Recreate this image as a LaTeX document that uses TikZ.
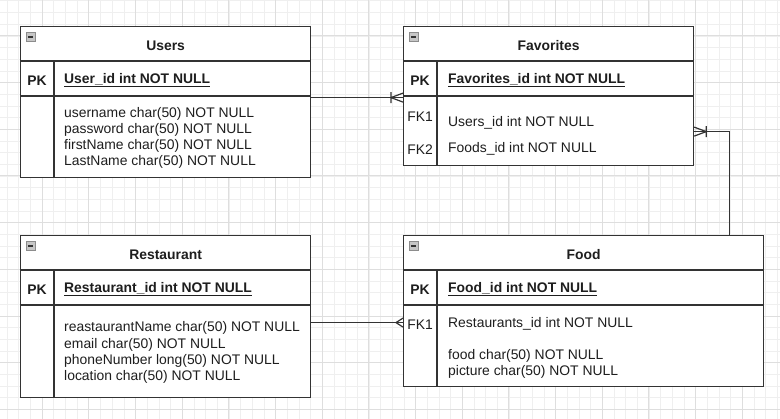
\documentclass[tikz,border=0pt]{standalone}
\usepackage{fontspec}
\setmainfont{Liberation Sans}
\usetikzlibrary{positioning}
\usetikzlibrary{calc}

\definecolor{gridminor}{HTML}{EFEFEF}
\definecolor{gridmajor}{HTML}{DEDEDE}
\definecolor{edge}{HTML}{333333}
\definecolor{ink}{HTML}{1E1E1E}

\begin{document}
\begin{tikzpicture}[x=1pt, y=-1pt,
    tbl/.style={rectangle, draw=edge, line width=1.2pt, fill=white, anchor=north west, inner sep=0pt},
    rule/.style={draw=edge, line width=1.2pt},
    conn/.style={draw=edge, line width=1.2pt},
    minusbox/.style={rectangle, draw=gray!90, fill=gray!45, minimum size=9pt, inner sep=0pt,
      path picture={\draw[edge, line width=1.4pt] ([xshift=1.8pt]path picture bounding box.west) -- ([xshift=-1.8pt]path picture bounding box.east);}},
    field/.style={anchor=west, inner sep=0pt, yshift=-1.3pt, text=ink, font=\fontsize{13.9}{16}\selectfont},
    keyfield/.style={field, font=\fontsize{13.9}{16}\selectfont\bfseries},
    title/.style={inner sep=0pt, yshift=-1.3pt, text=ink, font=\fontsize{13.9}{16}\selectfont\bfseries},
    pkl/.style={inner sep=0pt, yshift=-1.3pt, text=ink, font=\fontsize{13.9}{16}\selectfont\bfseries},
    fkl/.style={inner sep=0pt, yshift=-1.3pt, text=ink, font=\fontsize{13.9}{16}\selectfont},
    many/.pic={\draw[edge, line width=1.2pt] (-7,0) -- (0,-4.5) (-7,0) -- (0,4.5);},
    onemany/.pic={\draw[edge, line width=1.2pt] (-12,0) -- (0,-4.5) (-12,0) -- (0,4.5) (-12,-5.5) -- (-12,5.5);}]

        \useasboundingbox (0,0) rectangle (780,419);

        % Background grid
        \foreach \i in {0,...,66} {
          \draw[gridminor, line width=0.8pt] ({7.2+\i*11.67},0) -- ({7.2+\i*11.67},419);
        }
        \foreach \i in {0,...,35} {
          \draw[gridminor, line width=0.8pt] (0,{0.9+\i*11.67}) -- (780,{0.9+\i*11.67});
        }
        \foreach \i in {0,...,16} {
          \draw[gridmajor, line width=0.9pt] ({42.1+\i*46.68},0) -- ({42.1+\i*46.68},419);
        }
        \foreach \i in {0,...,8} {
          \draw[gridmajor, line width=0.9pt] (0,{35.9+\i*46.68}) -- (780,{35.9+\i*46.68});
        }

        % Tables: name / left / top / width / height
        \foreach \n/\x/\y/\w/\h in {users/20/26/290/151, fav/403/26/290/139, rest/20/235/290/162, food/403/235/360/151} {
          \node[tbl, minimum width=\w, minimum height=\h] (\n) at (\x,\y) {};
          \draw[rule] ([yshift=-35pt]\n.north west) -- ([yshift=-35pt]\n.north east);
          \draw[rule] ([yshift=-70pt]\n.north west) -- ([yshift=-70pt]\n.north east);
          \draw[rule] ([shift={(34pt,-35pt)}]\n.north west) -- ([xshift=34pt]\n.south west);
          \node[minusbox] (\n-min) at ([shift={(10.5pt,-11pt)}]\n.north west) {};
        }

        % Users
        \node[title] (users-title) at ([yshift=-18pt]users.north) {Users};
        \node[pkl] (users-pk) at (37,79) {PK};
        \node[keyfield] (users-key) at (64,79) {\underline{User\_id int NOT NULL}};
        \foreach \txt [count=\i] in {username char(50) NOT NULL, password char(50) NOT NULL, firstName char(50) NOT NULL, LastName char(50) NOT NULL} {
          \node[field] (users-f\i) at (64,{113+(\i-1)*16}) {\txt};
        }

        % Favorites
        \node[title] (fav-title) at ([yshift=-18pt]fav.north) {Favorites};
        \node[pkl] (fav-pk) at (420,79) {PK};
        \node[keyfield] (fav-key) at (448,79) {\underline{Favorites\_id int NOT NULL}};
        \node[fkl] (fav-fk1) at (420,115) {FK1};
        \node[field] (fav-f1) at (448,122) {Users\_id int NOT NULL};
        \node[fkl] (fav-fk2) at (420,148) {FK2};
        \node[field] (fav-f2) at (448,148) {Foods\_id int NOT NULL};

        % Restaurant
        \node[title] (rest-title) at ([yshift=-18pt]rest.north) {Restaurant};
        \node[pkl] (rest-pk) at (37,288) {PK};
        \node[keyfield] (rest-key) at (64,288) {\underline{Restaurant\_id int NOT NULL}};
        \foreach \txt [count=\i] in {reastaurantName char(50) NOT NULL, email char(50) NOT NULL, phoneNumber long(50) NOT NULL, location char(50) NOT NULL} {
          \node[field] (rest-f\i) at (64,{327+(\i-1)*16.3}) {\txt};
        }

        % Food
        \node[title] (food-title) at ([yshift=-18pt]food.north) {Food};
        \node[pkl] (food-pk) at (420,288) {PK};
        \node[keyfield] (food-key) at (448,288) {\underline{Food\_id int NOT NULL}};
        \node[fkl] (food-fk1) at (420,323) {FK1};
        \node[field] (food-f1) at (448,323) {Restaurants\_id int NOT NULL};
        \node[field] (food-f2) at (448,355) {food char(50) NOT NULL};
        \node[field] (food-f3) at (448,371) {picture char(50) NOT NULL};

        % Relations
        \draw[conn] ([yshift=4.5pt]users.east) -- ([yshift=4.5pt]users.east -| fav.west) pic {onemany};
        \draw[conn] ([yshift=-35.5pt]fav.east) pic[rotate=180] {onemany} -| ([xshift=-35pt]food.north east);
        \draw[conn] ([yshift=-6pt]rest.east) -- ([yshift=-6pt]rest.east -| food.west) pic {many};

      \end{tikzpicture}
\end{document}
